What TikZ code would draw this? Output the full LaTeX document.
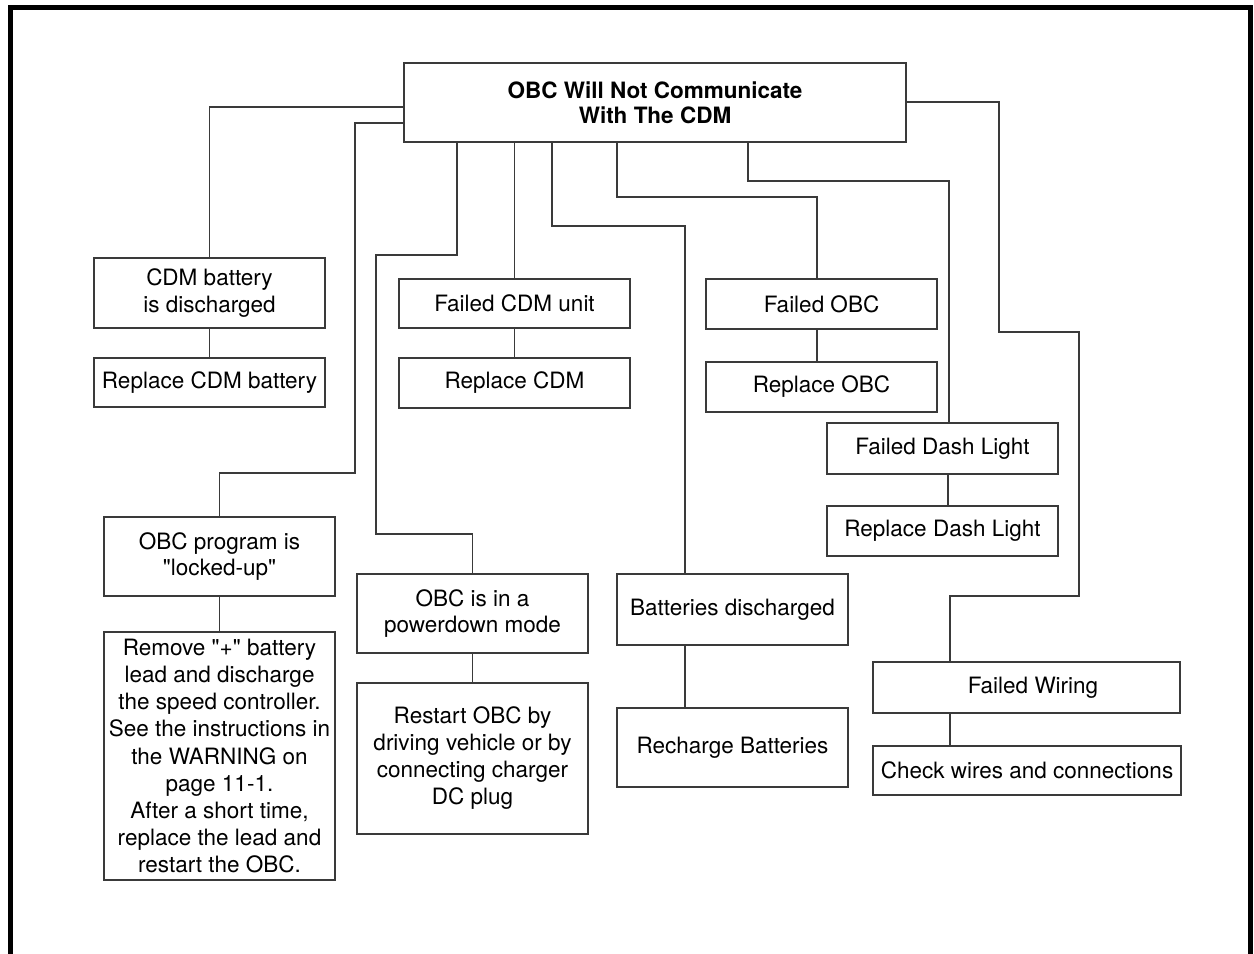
\documentclass[tikz,border=0pt]{standalone}
\usepackage{fontspec}
\setmainfont{TeX Gyre Heros}[Ligatures=TeXOff]
\definecolor{edge}{HTML}{3A3A3A}
\tikzset{
  box/.style={draw=edge, line width=1.3bp, rectangle, inner sep=0pt, align=center,
    font=\fontsize{22.5bp}{26.5bp}\selectfont, text=black},
  wire/.style={draw=edge, line width=1.3bp},
  thickwire/.style={draw=edge, line width=1.8bp},
  frameline/.style={draw=black, line width=5bp}
}
\begin{document}
\begin{tikzpicture}[x=1bp, y=-1bp]
\useasboundingbox (0,0) rectangle (1254,954);
\fill[white] (0,0) rectangle (1254,954);
\draw[frameline] (10,954) -- (10,7.5) -- (1250,7.5) -- (1250,954);

% nodes
\node[box, minimum width=502bp, minimum height=79bp, font=\fontsize{22.5bp}{25bp}\selectfont\bfseries] (top) at (655,102.5) {OBC Will Not Communicate\\With The CDM};
\node[box, minimum width=231bp, minimum height=70bp] (cdmbat) at (209.5,293) {CDM battery\\is discharged};
\node[box, minimum width=231bp, minimum height=49bp] (repbat) at (209.5,382.5) {Replace CDM battery};
\node[box, minimum width=231bp, minimum height=49bp] (failcdm) at (514.5,303.5) {Failed CDM unit};
\node[box, minimum width=231bp, minimum height=50bp] (repcdm) at (514.5,383) {Replace CDM};
\node[box, minimum width=231bp, minimum height=50bp] (failobc) at (821.5,304) {Failed OBC};
\node[box, minimum width=231bp, minimum height=50bp] (repobc) at (821.5,387) {Replace OBC};
\node[box, minimum width=231bp, minimum height=51bp] (dash) at (942.5,448.5) {Failed Dash Light};
\node[box, minimum width=231bp, minimum height=50bp] (repdash) at (942.5,531) {Replace Dash Light};
\node[box, minimum width=231bp, minimum height=79bp] (locked) at (219.5,556.5) {OBC program is\\"locked-up"};
\node[box, minimum width=231bp, minimum height=248bp, font=\fontsize{22.5bp}{27.1bp}\selectfont] (remove) at (219.5,756) {Remove "+" battery\\lead and discharge\\the speed controller.\\See the instructions in\\the WARNING on\\page 11-1.\\After a short time,\\replace the lead and\\restart the OBC.};
\node[box, minimum width=231bp, minimum height=79bp] (powerdown) at (472.5,613.5) {OBC is in a\\powerdown mode};
\node[box, minimum width=231bp, minimum height=151bp, font=\fontsize{22.5bp}{27bp}\selectfont] (restart) at (472.5,758.5) {Restart OBC by\\driving vehicle or by\\connecting charger\\DC plug};
\node[box, minimum width=231bp, minimum height=71bp] (batt) at (732.5,609.5) {Batteries discharged};
\node[box, minimum width=231bp, minimum height=79bp] (recharge) at (732.5,747.5) {Recharge Batteries};
\node[box, minimum width=307bp, minimum height=51bp] (wiring) at (1026.5,687.5) {\hspace*{13bp}Failed Wiring};
\node[box, minimum width=308bp, minimum height=49bp] (check) at (1027,770.5) {Check wires and connections};

% connectors from the top node
\draw[wire] (top.west |- 0,107) -| (cdmbat.north);
\draw[wire] (top.west |- 0,123) -| (355,473) -| (locked.north);
\draw[wire] (top.south -| 457,0) |- (376,255) -- (376,534) -| (powerdown.north);
\draw[wire] (top.south -| failcdm.north) -- (failcdm.north);
\draw[wire] (top.south -| 552,0) |- (685,226) -- (batt.north -| 685,0);
\draw[wire] (top.south -| 617,0) |- (817,197) -- (failobc.north -| 817,0);
\draw[thickwire] (top.south -| 748,0) |- (949,181) -- (dash.north -| 949,0);
\draw[thickwire] (top.east |- 0,102) -| (999,332) -| (1079,596) -| (wiring.north -| 950,0);

% child connectors
\draw[wire] (cdmbat.south) -- (repbat.north);
\draw[wire] (failcdm.south) -- (repcdm.north);
\draw[wire] (failobc.south -| 817,0) -- (repobc.north -| 817,0);
\draw[thickwire] (dash.south -| 948,0) -- (repdash.north -| 948,0);
\draw[wire] (locked.south) -- (remove.north);
\draw[wire] (powerdown.south) -- (restart.north);
\draw[wire] (batt.south -| 685,0) -- (recharge.north -| 685,0);
\draw[thickwire] (wiring.south -| 950,0) -- (check.north -| 950,0);
\end{tikzpicture}
\end{document}
